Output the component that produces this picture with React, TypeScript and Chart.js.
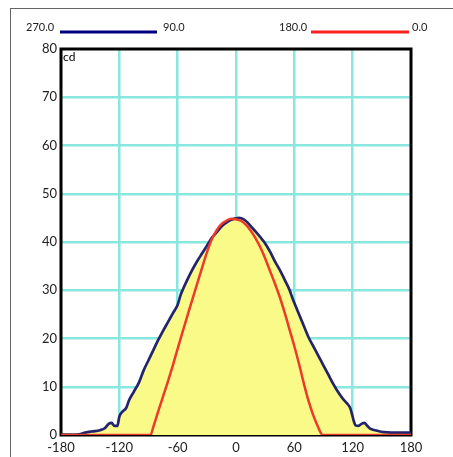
import React, { useEffect, useRef } from "react";
import { Chart, registerables } from "chart.js";

Chart.register(...registerables);

// C90-C270 plane (navy)
const navyAngles = [-180, -165, -160, -155, -150, -145, -140, -135, -131, -128, -125, -122, -120, -117, -113, -110, -105, -100, -95, -90, -85, -80, -75, -70, -65, -60, -57, -55, -50, -45, -40, -35, -30, -25, -20, -15, -10, -5, 0, 3, 8, 12, 16, 20, 25, 29, 35, 40, 45, 50, 55, 58, 62, 65, 70, 75, 80, 85, 90, 95, 100, 105, 110, 114, 117, 119, 121, 123, 126, 129, 132, 135, 138, 145, 152, 160, 170, 180];
const navyValues = [0, 0, 0.2, 0.5, 0.7, 0.8, 1.0, 1.4, 2.3, 2.5, 1.9, 1.9, 3.8, 4.8, 5.6, 7.2, 9.0, 10.8, 13.4, 15.5, 17.6, 19.7, 21.6, 23.4, 25.2, 27.0, 29.0, 30.0, 32.2, 34.2, 36.0, 37.6, 39.2, 40.8, 42.0, 43.2, 44.0, 44.6, 44.9, 45.0, 44.7, 44.0, 43.1, 42.2, 41.0, 40.0, 38.0, 36.0, 34.2, 32.2, 30.1, 28.4, 26.4, 24.9, 22.5, 20.1, 18.2, 16.3, 14.4, 12.5, 10.6, 8.9, 7.5, 6.6, 5.8, 4.6, 3.0, 2.0, 1.9, 2.3, 2.5, 1.9, 1.3, 0.9, 0.6, 0.5, 0.5, 0.5];

// C0-C180 plane (red)
const redAngles = [-180, -120, -88, -85, -80, -75, -70, -65, -60, -55, -50, -45, -40, -35, -30, -25, -20, -15, -10, -5, 0, 5, 10, 15, 20, 25, 30, 35, 40, 45, 50, 55, 60, 65, 70, 75, 80, 85, 89, 120, 180];
const redValues = [0, 0, 0, 1.7, 4.9, 8.0, 11.1, 14.4, 17.9, 21.3, 24.7, 28.0, 31.3, 34.6, 37.8, 40.5, 42.4, 43.7, 44.4, 44.8, 44.7, 44.4, 43.6, 42.4, 40.8, 38.9, 36.6, 34.0, 31.4, 28.6, 25.4, 21.9, 18.4, 14.6, 10.5, 6.8, 3.8, 1.4, 0, 0, 0];

const xTicks = [-180, -120, -60, 0, 60, 120, 180];
const yTicks = [0, 10, 20, 30, 40, 50, 60, 70, 80];

const legendItems = [
  { left: "270.0", right: "90.0", color: "#000080" },
  { left: "180.0", right: "0.0", color: "#FF2020" },
];
const unitLabel = "cd";

const FONT = "Lato, 'DejaVu Sans', sans-serif";

export default function App() {
  const ref = useRef<HTMLCanvasElement | null>(null);

  useEffect(() => {
    if (!ref.current) return;

    const extras = {
      id: "extras",
      beforeDatasetsDraw(chart: any) {
        const { ctx, chartArea: a } = chart;
        ctx.save();
        ctx.strokeStyle = "#000";
        ctx.lineWidth = 3;
        ctx.strokeRect(a.left, a.top, a.right - a.left, a.bottom - a.top);
        ctx.restore();
      },
      afterDraw(chart: any) {
        const { ctx, chartArea: a } = chart;
        ctx.save();
        ctx.fillStyle = "#000";
        ctx.font = `12px ${FONT}`;
        ctx.textBaseline = "alphabetic";
        ctx.textAlign = "left";
        ctx.fillText(unitLabel, a.left + 2, a.top + 12);
        ctx.font = `11px ${FONT}`;
        const pos = [
          { tx: 26, x1: 60, x2: 157, rx: 163 },
          { tx: 279, x1: 311, x2: 409, rx: 412 },
        ];
        legendItems.forEach((it, i) => {
          const p = pos[i];
          ctx.fillStyle = "#222";
          ctx.fillText(it.left, p.tx, 31);
          ctx.fillText(it.right, p.rx, 31);
          ctx.strokeStyle = it.color;
          ctx.lineWidth = 3;
          ctx.beginPath();
          ctx.moveTo(p.x1, 32);
          ctx.lineTo(p.x2, 32);
          ctx.stroke();
        });
        ctx.restore();
      },
    };

    const chart = new Chart(ref.current, {
      type: "line",
      data: {
        datasets: [
          {
            label: "C0-C180",
            data: redAngles.map((x, i) => ({ x, y: redValues[i] })),
            borderColor: "#EE3A2A",
            borderWidth: 2.5,
            pointRadius: 0,
            fill: false,
            cubicInterpolationMode: "monotone",
          },
          {
            label: "C90-C270",
            data: navyAngles.map((x, i) => ({ x, y: navyValues[i] })),
            borderColor: "#24246E",
            backgroundColor: "#FAFA88",
            borderWidth: 2.7,
            pointRadius: 0,
            fill: "origin",
            cubicInterpolationMode: "monotone",
          },
        ],
      },
      plugins: [extras],
      options: {
        animation: false,
        responsive: false,
        layout: { padding: { left: 0, right: 42, top: 49, bottom: 0 } },
        plugins: { legend: { display: false }, tooltip: { enabled: false } },
        scales: {
          x: {
            type: "linear",
            min: -180,
            max: 180,
            afterBuildTicks: (s: any) => {
              s.ticks = xTicks.map((v) => ({ value: v }));
            },
            afterFit: (s: any) => {
              s.height = 22;
            },
            ticks: {
              color: "#222",
              font: { family: FONT, size: 13 },
              padding: 5,
              maxRotation: 0,
              autoSkip: false,
            },
            grid: {
              color: (c: any) =>
                c.tick && Math.abs(c.tick.value) === 180 ? "rgba(0,0,0,0)" : "#88E8E0",
              lineWidth: 2.5,
              drawTicks: false,
            },
            border: { display: false },
          },
          y: {
            type: "linear",
            min: 0,
            max: 80,
            afterBuildTicks: (s: any) => {
              s.ticks = yTicks.map((v) => ({ value: v }));
            },
            afterFit: (s: any) => {
              s.width = 61;
            },
            ticks: {
              color: "#222",
              font: { family: FONT, size: 13 },
              padding: 4,
            },
            grid: {
              color: (c: any) =>
                c.tick && (c.tick.value === 0 || c.tick.value === 80) ? "rgba(0,0,0,0)" : "#88E8E0",
              lineWidth: 2.5,
              drawTicks: false,
            },
            border: { display: false },
          },
        },
      },
    });
    return () => chart.destroy();
  }, []);

  return (
    <div style={{ position: "fixed", left: 0, top: 0, width: 453, height: 457, background: "#fff", overflow: "hidden" }}>
      <div
        style={{
          position: "absolute",
          left: 10,
          top: 8,
          width: 460,
          height: 460,
          borderLeft: "1px solid #666",
          borderTop: "1px solid #666",
        }}
      />
      <canvas ref={ref} width={453} height={457} style={{ position: "absolute", left: 0, top: 0, display: "block" }} />
    </div>
  );
}
